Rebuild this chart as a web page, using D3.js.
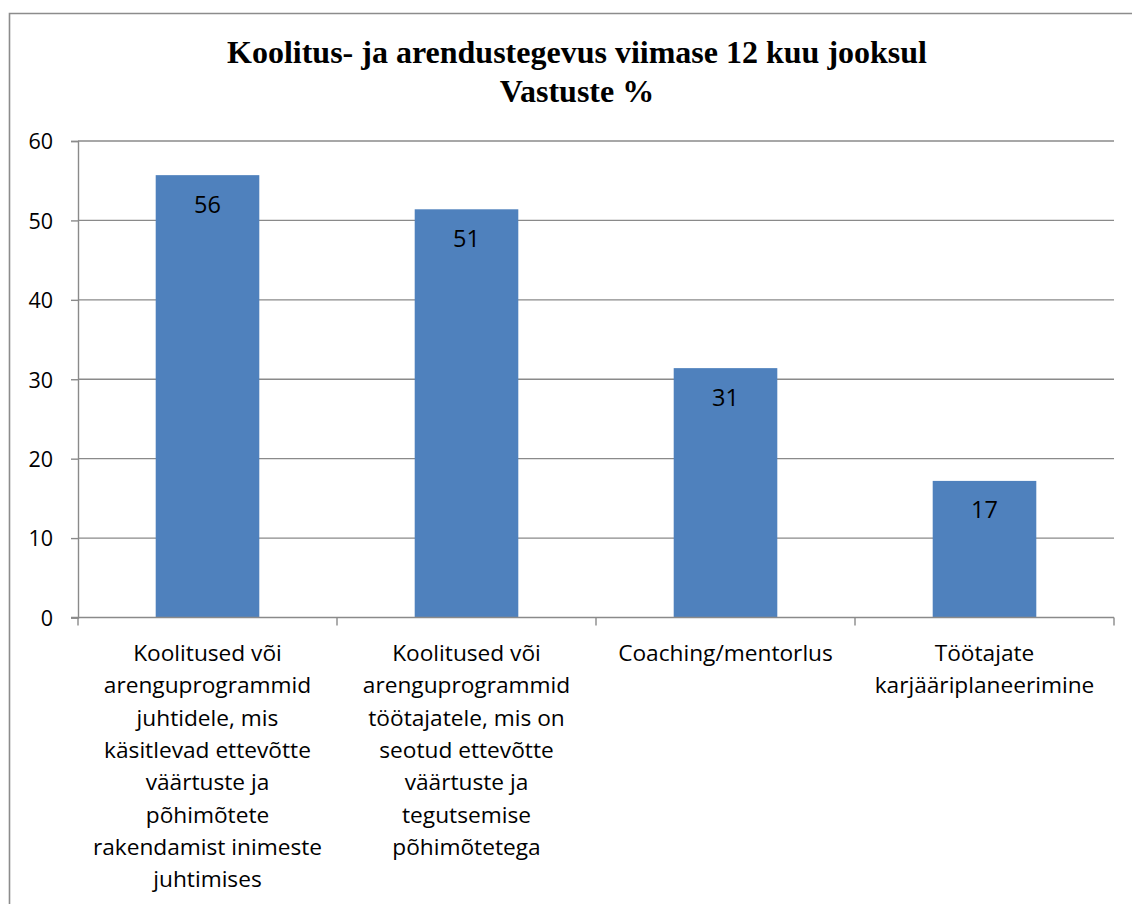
<!DOCTYPE html>
<html>
<head>
<meta charset="utf-8">
<script src="https://cdn.jsdelivr.net/npm/d3@7"></script>
<style>
  html, body { margin: 0; padding: 0; background: #fff; }
  svg { display: block; }
</style>
</head>
<body>
<svg id="chart" width="1132" height="904"></svg>
<script>
// Survey results: share of respondents (%) per activity type
const titleLines = ["Koolitus- ja arendustegevus viimase 12 kuu jooksul", "Vastuste %"];
const categories = [
  ["Koolitused või", "arenguprogrammid", "juhtidele, mis", "käsitlevad ettevõtte", "väärtuste ja", "põhimõtete", "rakendamist inimeste", "juhtimises"],
  ["Koolitused või", "arenguprogrammid", "töötajatele, mis on", "seotud ettevõtte", "väärtuste ja", "tegutsemise", "põhimõtetega"],
  ["Coaching/mentorlus"],
  ["Töötajate", "karjääriplaneerimine"]
];
const values = [55.7, 51.4, 31.4, 17.2];
const yTicks = [0, 10, 20, 30, 40, 50, 60];

const svg = d3.select("#chart");
const plot = { left: 78, right: 1114, top: 141, bottom: 617.5 };
const gridColor = "#8a8a8a";
const barColor = "#4f81bd";
const sans = "'Open Sans', 'Noto Sans', sans-serif";

// outer chart frame
svg.append("path")
  .attr("d", "M9.5,904 L9.5,13.5 L1132,13.5")
  .attr("fill", "none")
  .attr("stroke", "#8c8c8c")
  .attr("stroke-width", 1.6);

// title
svg.append("text")
  .attr("font-family", "'Liberation Serif', 'Times New Roman', serif")
  .attr("font-weight", "bold")
  .attr("font-size", 32)
  .attr("text-anchor", "middle")
  .selectAll("tspan")
  .data(titleLines)
  .join("tspan")
  .attr("x", 577)
  .attr("y", (d, i) => 63 + i * 39)
  .text(d => d);

const x = d3.scaleBand()
  .domain(d3.range(categories.length))
  .range([plot.left, plot.right])
  .paddingInner(0.6)
  .paddingOuter(0.3);

const y = d3.scaleLinear()
  .domain([0, 60])
  .range([plot.bottom, plot.top]);

// horizontal gridlines
svg.append("g")
  .selectAll("line")
  .data(yTicks.filter(t => t > 0))
  .join("line")
  .attr("x1", plot.left)
  .attr("x2", plot.right)
  .attr("y1", d => y(d))
  .attr("y2", d => y(d))
  .attr("stroke", gridColor)
  .attr("stroke-width", 1.4);

// y axis
const yAxis = svg.append("g")
  .attr("transform", `translate(${plot.left},0)`)
  .call(d3.axisLeft(y).tickValues(yTicks).tickSize(7).tickPadding(18));
yAxis.select(".domain").attr("stroke", gridColor).attr("stroke-width", 1.4);
yAxis.selectAll(".tick line").attr("stroke", gridColor).attr("stroke-width", 1.4);
yAxis.selectAll(".tick text")
  .attr("font-family", sans)
  .attr("font-size", 21.5)
  .attr("fill", "#000")
  .attr("dy", "0.36em");

// bars
svg.append("g")
  .selectAll("rect")
  .data(values)
  .join("rect")
  .attr("x", (d, i) => x(i))
  .attr("width", x.bandwidth())
  .attr("y", d => y(d))
  .attr("height", d => y(0) - y(d))
  .attr("fill", barColor);

// value labels inside bars
svg.append("g")
  .selectAll("text")
  .data(values)
  .join("text")
  .attr("x", (d, i) => x(i) + x.bandwidth() / 2)
  .attr("y", d => y(d) + 37.5)
  .attr("text-anchor", "middle")
  .attr("font-family", sans)
  .attr("font-size", 23.5)
  .attr("fill", "#000")
  .text(d => d3.format(".0f")(d));

// x axis line with boundary ticks
const xAxis = svg.append("g");
xAxis.append("line")
  .attr("x1", plot.left - 7)
  .attr("x2", plot.right)
  .attr("y1", plot.bottom)
  .attr("y2", plot.bottom)
  .attr("stroke", gridColor)
  .attr("stroke-width", 1.4);
xAxis.selectAll("line.tick")
  .data(d3.range(categories.length + 1))
  .join("line")
  .attr("class", "tick")
  .attr("x1", i => plot.left + i * x.step())
  .attr("x2", i => plot.left + i * x.step())
  .attr("y1", plot.bottom)
  .attr("y2", plot.bottom + 8)
  .attr("stroke", gridColor)
  .attr("stroke-width", 1.4);

// category labels
svg.append("g")
  .selectAll("text")
  .data(categories)
  .join("text")
  .attr("text-anchor", "middle")
  .attr("font-family", sans)
  .attr("font-size", 22.7)
  .attr("fill", "#000")
  .each(function(lines, i) {
    d3.select(this).selectAll("tspan")
      .data(lines)
      .join("tspan")
      .attr("x", x(i) + x.bandwidth() / 2)
      .attr("y", (d, j) => 661 + j * 32.3)
      .text(d => d);
  });
</script>
</body>
</html>
